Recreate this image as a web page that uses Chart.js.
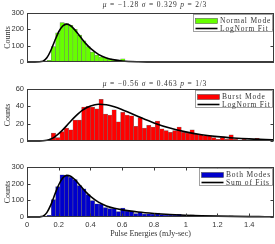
<!DOCTYPE html>
<html>
<head>
<meta charset="utf-8">
<script src="https://cdn.jsdelivr.net/npm/chart.js@4.4.1/dist/chart.umd.min.js"></script>
<style>
  html, body { margin: 0; padding: 0; background: #fff; }
  #wrap { position: relative; width: 275px; height: 244px; overflow: hidden; }
  #wrap canvas { position: absolute; left: 0; top: 0; }
</style>
</head>
<body>
<div id="wrap">
  <canvas id="c1" width="275" height="244"></canvas>
  <canvas id="c2" width="275" height="244"></canvas>
  <canvas id="c3" width="275" height="244"></canvas>
</div>
<script>
// histogram bin centres (mJy-sec)
const binCenters = [
  0.1394, 0.1667, 0.1940, 0.2213, 0.2486, 0.2759, 0.3032, 0.3305, 0.3578, 0.3851,
  0.4124, 0.4397, 0.4670, 0.4943, 0.5216, 0.5489, 0.5762, 0.6035, 0.6308, 0.6581,
  0.6854, 0.7127, 0.7400, 0.7673, 0.7946, 0.8219, 0.8492, 0.8765, 0.9038, 0.9311,
  0.9584, 0.9857, 1.0130, 1.0403, 1.0676, 1.0949, 1.1222, 1.1495, 1.1768, 1.2041,
  1.2314, 1.2587, 1.2860, 1.3133, 1.3406, 1.3679, 1.3952, 1.4225, 1.4498, 1.4771,
  1.5044, 1.5317
]
const normalCounts = [
  10, 95, 178, 242, 235, 225, 200, 165, 130, 95,
  60, 42, 30, 26, 20, 14, 10, 20, 6, 5,
  3, 3, 2, 1, 2, 1, 1, 0, 1, 0,
  0, 0, 0, 0, 0, 0, 0, 0, 0, 0,
  0, 0, 0, 0, 0, 0, 0, 0, 0, 0,
  0, 0
]
const burstCounts = [
  0, 9, 4, 11, 15, 13, 24, 24, 39, 40,
  39, 37, 48, 31, 30, 36, 22, 33, 30, 29,
  17, 27, 15, 18, 16, 23, 14, 12, 10, 12,
  16, 10, 9, 13, 8, 7, 6, 6, 4, 2,
  4, 2, 7, 2, 1, 2, 1, 1, 3, 1,
  1, 1
]
const bothCounts = [
  10, 104, 182, 253, 250, 238, 224, 189, 169, 135,
  99, 79, 78, 57, 50, 50, 32, 53, 36, 34,
  20, 30, 17, 19, 18, 24, 15, 12, 11, 12,
  16, 10, 9, 13, 8, 7, 6, 6, 4, 2,
  4, 2, 7, 2, 1, 2, 1, 1, 3, 1,
  1, 1
]

// fitted curves, read at these energies
const fitX = [0, 0.05, 0.1, 0.125, 0.15, 0.175, 0.2, 0.225, 0.25, 0.275, 0.3, 0.325, 0.35, 0.375, 0.4,
  0.45, 0.5, 0.55, 0.6, 0.7, 0.8, 0.9, 1.0, 1.1, 1.2, 1.3, 1.4, 1.5, 1.556]
const normalFit = [0, 0, 4.9, 25.6, 70.2, 129.8, 185.2, 220.7, 232.0, 222.1, 198.3, 168.1, 136.8, 107.8, 82.9,
  46.6, 24.9, 13.0, 6.6, 1.7, 0.4, 0.1, 0, 0, 0, 0, 0, 0, 0]
const burstFit = [0, 0, 0.2, 0.8, 2.3, 4.8, 8.4, 12.8, 17.7, 22.8, 27.6, 31.9, 35.6, 38.4, 40.5,
  42.4, 41.8, 39.5, 36.1, 28.3, 20.9, 14.9, 10.5, 7.3, 5.0, 3.5, 2.4, 1.7, 1.3]
const sumFit = [0, 0, 5.1, 26.4, 72.5, 134.6, 193.6, 233.5, 249.7, 244.9, 225.9, 200.0, 172.4, 146.2, 123.4,
  89.0, 66.7, 52.5, 42.7, 30.0, 21.3, 15.0, 10.5, 7.3, 5.0, 3.5, 2.4, 1.7, 1.3]

// tick labels
const energyTicks = [0, 0.2, 0.4, 0.6, 0.8, 1, 1.2, 1.4]
const countTicks300 = [0, 100, 200, 300]
const countTicks60 = [0, 20, 40, 60]

const SERIF = "'Liberation Serif', 'Times New Roman', serif"
const SANS = "'Liberation Sans', Arial, sans-serif"
const INK = '#333'

// frame, inward ticks, panel title and boxed legend
const decoPlugin = {
  id: 'deco',
  afterDraw(chart, args, opts) {
    const { ctx, chartArea: a, scales } = chart
    const L = Math.round(a.left) + 0.5
    const R = Math.round(a.right) - 0.5
    const T = Math.round(a.top) + 0.5
    const B = Math.round(a.bottom) - 0.5
    ctx.save()
    ctx.strokeStyle = '#3a3a3a'
    ctx.lineWidth = 1
    ctx.beginPath()
    scales.y.ticks.forEach(t => {
      const y = Math.round(scales.y.getPixelForValue(t.value)) + 0.5
      ctx.moveTo(L, y); ctx.lineTo(L + 3, y)
      ctx.moveTo(R, y); ctx.lineTo(R - 3, y)
    })
    if (opts.xTicks) {
      scales.x.ticks.forEach(t => {
        const x = Math.round(scales.x.getPixelForValue(t.value)) + 0.5
        ctx.moveTo(x, T); ctx.lineTo(x, T + 3)
        ctx.moveTo(x, B); ctx.lineTo(x, B - 3)
      })
    }
    ctx.stroke()
    ctx.strokeRect(L, T, R - L, B - T)

    // title with italic symbols
    if (opts.title) {
      ctx.letterSpacing = '0.8px'
      ctx.textBaseline = 'middle'
      ctx.fillStyle = INK
      const fonts = opts.title.map(s => (s[1] ? 'italic ' : '') + '7.5px ' + SERIF)
      let total = 0
      const widths = opts.title.map((s, i) => { ctx.font = fonts[i]; const w = ctx.measureText(s[0]).width; total += w; return w })
      let x = opts.titleX - total / 2
      opts.title.forEach((s, i) => { ctx.font = fonts[i]; ctx.textAlign = 'left'; ctx.fillText(s[0], x, opts.titleY); x += widths[i] })
    }

    // legend
    const items = chart.data.datasets.slice().reverse()
    ctx.letterSpacing = '0.8px'
    ctx.font = '7.5px ' + SERIF
    const textW = Math.max(...items.map(d => ctx.measureText(d.label).width))
    const boxW = 2 + 22 + 2.5 + textW + 2
    const bx = Math.round(R - 1 - boxW) + 0.5
    const by = T + 1
    const bh = 17
    ctx.fillStyle = '#fff'
    ctx.fillRect(bx, by, R - 1 - bx, bh)
    ctx.strokeStyle = '#8a8a8a'
    ctx.lineWidth = 0.8
    ctx.strokeRect(bx, by, R - 1 - bx, bh)
    items.forEach((d, i) => {
      const cy = by + 6.5 + i * 7.5
      const sx = bx + 2
      if (d.type === 'bar') {
        ctx.fillStyle = d.backgroundColor
        ctx.fillRect(sx, cy - 2.5, 22, 5)
        ctx.strokeStyle = 'rgba(60,60,60,0.8)'
        ctx.lineWidth = 0.6
        ctx.strokeRect(sx, cy - 2.5, 22, 5)
      } else {
        ctx.strokeStyle = '#000'
        ctx.lineWidth = 1.6
        ctx.beginPath(); ctx.moveTo(sx, cy); ctx.lineTo(sx + 22, cy); ctx.stroke()
      }
      ctx.fillStyle = INK
      ctx.textAlign = 'left'
      ctx.textBaseline = 'middle'
      ctx.fillText(d.label, sx + 24.5, cy + 0.5)
    })
    ctx.restore()
  }
}

function panelConfig(p) {
  return {
    type: 'bar',
    data: {
      datasets: [
        {
          type: 'line',
          label: p.fitLabel,
          data: fitX.map((x, i) => ({ x, y: p.fit[i] })),
          borderColor: '#000',
          borderWidth: 1.6,
          pointRadius: 0,
          cubicInterpolationMode: 'monotone',
          fill: false,
          clip: 2,
          order: 0,
        },
        {
          type: 'bar',
          label: p.barLabel,
          data: binCenters.map((x, i) => ({ x, y: p.counts[i] })),
          backgroundColor: p.color,
          borderColor: 'rgba(105,105,105,0.9)',
          borderWidth: 0.5,
          barPercentage: 1,
          categoryPercentage: 1,
          order: 1,
        },
      ],
    },
    options: {
      responsive: false,
      animation: false,
      events: [],
      layout: { padding: { left: 0, right: 1, top: p.top, bottom: p.bottom } },
      scales: {
        x: {
          type: 'linear',
          min: 0,
          max: 1.556,
          offset: false,
          display: p.showX,
          grid: { display: false, drawTicks: false },
          border: { display: false },
          afterBuildTicks: s => { s.ticks = energyTicks.map(v => ({ value: v })) },
          afterFit: s => { s.height = p.xHeight },
          ticks: { padding: 3, maxRotation: 0, autoSkip: false, color: INK, font: { family: SANS, size: 7.5 }, callback: v => String(v) },
          title: { display: p.showX, text: 'Pulse Energies (mJy-sec)', color: INK, font: { family: SERIF, size: 8 }, padding: { top: 0, bottom: 5 } },
        },
        y: {
          type: 'linear',
          min: 0,
          max: p.ymax,
          grid: { display: false, drawTicks: false },
          border: { display: false },
          afterBuildTicks: s => { s.ticks = p.yTicks.map(v => ({ value: v })) },
          afterFit: s => { s.width = 27 },
          ticks: { padding: 3, color: INK, font: { family: SANS, size: 7.5 }, callback: v => String(v) },
          title: { display: true, text: 'Counts', color: INK, font: { family: SERIF, size: 8 }, padding: { top: 3, bottom: 0 } },
        },
      },
      plugins: {
        legend: { display: false },
        tooltip: { enabled: false },
        deco: { title: p.title, titleX: 155, titleY: p.titleY, xTicks: p.showX },
      },
    },
    plugins: [decoPlugin],
  }
}

new Chart(document.getElementById('c1'), panelConfig({
  top: 13, bottom: 182, showX: false, xHeight: 0, ymax: 300, yTicks: countTicks300,
  counts: normalCounts, fit: normalFit, color: '#66ff00',
  barLabel: 'Normal Mode', fitLabel: 'LogNorm Fit',
  title: [['μ', true], [' = −1.28 ', false], ['σ', true], [' = 0.329 ', false], ['p', true], [' = 2/3', false]], titleY: 5,
}))

new Chart(document.getElementById('c2'), panelConfig({
  top: 89, bottom: 103, showX: false, xHeight: 0, ymax: 60, yTicks: countTicks60,
  counts: burstCounts, fit: burstFit, color: '#ff0000',
  barLabel: 'Burst Mode', fitLabel: 'LogNorm Fit',
  title: [['μ', true], [' = −0.56 ', false], ['σ', true], [' = 0.463 ', false], ['p', true], [' = 1/3', false]], titleY: 84,
}))

new Chart(document.getElementById('c3'), panelConfig({
  top: 167, bottom: 0, showX: true, xHeight: 27, ymax: 300, yTicks: countTicks300,
  counts: bothCounts, fit: sumFit, color: '#0000cc',
  barLabel: 'Both Modes', fitLabel: 'Sum of Fits',
  title: null, titleY: 0,
}))
</script>
</body>
</html>
